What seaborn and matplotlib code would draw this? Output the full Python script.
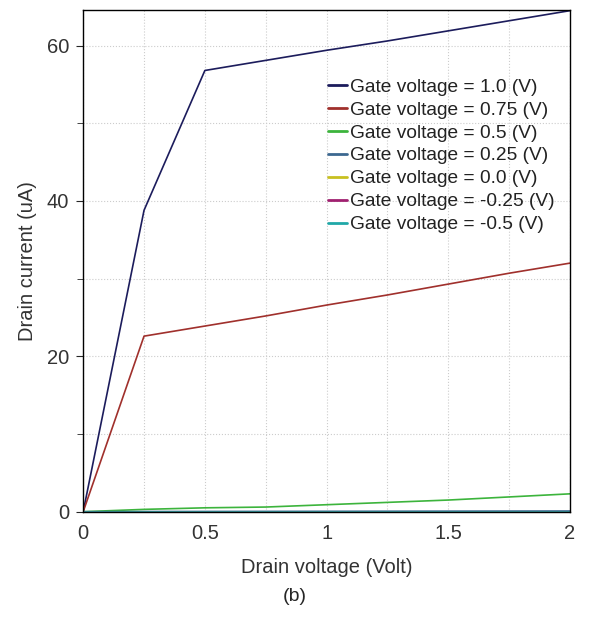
import matplotlib
matplotlib.use("Agg")
import matplotlib.pyplot as plt
import seaborn as sns
import pandas as pd
from matplotlib.ticker import MultipleLocator

sns.set_style("white")
plt.rcParams['font.family'] = ['Liberation Sans', 'DejaVu Sans']

drain_v = [0.0, 0.25, 0.5, 0.75, 1.0, 1.25, 1.5, 1.75, 2.0]
labels = ["Gate voltage = 1.0 (V)", "Gate voltage = 0.75 (V)", "Gate voltage = 0.5 (V)",
          "Gate voltage = 0.25 (V)", "Gate voltage = 0.0 (V)", "Gate voltage = -0.25 (V)",
          "Gate voltage = -0.5 (V)"]
i_10 = [0.0, 38.8, 56.8, 58.1, 59.4, 60.6, 61.9, 63.2, 64.5]
i_075 = [0.0, 22.6, 23.9, 25.2, 26.6, 27.9, 29.3, 30.7, 32.0]
i_05 = [0.0, 0.3, 0.5, 0.6, 0.9, 1.2, 1.5, 1.9, 2.3]
i_025 = [0.0, 0.02, 0.03, 0.04, 0.05, 0.06, 0.07, 0.08, 0.09]
i_00 = [0.0] * 9
i_m025 = [0.0] * 9
i_m05 = [0.0] * 9
colors = ["#1c1c5c", "#a0302c", "#3cb43c", "#3c6890", "#c8c020", "#a02070", "#20a8a8"]

series = [i_10, i_075, i_05, i_025, i_00, i_m025, i_m05]
rows = []
for lab, vals in zip(labels, series):
    for x, y in zip(drain_v, vals):
        rows.append({"Drain voltage": x, "Drain current": y, "Gate": lab})
df = pd.DataFrame(rows)

fig = plt.figure(figsize=(5.9, 6.18), dpi=100)
ax = fig.add_axes([0.141, 0.172, 0.825, 0.812])
sns.lineplot(data=df, x="Drain voltage", y="Drain current", hue="Gate",
             hue_order=labels, palette=colors, ax=ax, linewidth=1.2, legend=True)

ax.set_xlim(0, 2)
ax.set_ylim(0, 64.6)
ax.xaxis.set_minor_locator(MultipleLocator(0.25))
ax.yaxis.set_major_locator(MultipleLocator(20))
ax.yaxis.set_minor_locator(MultipleLocator(10))
ax.set_xticks([0, 0.5, 1, 1.5, 2])
ax.set_xticklabels(["0", "0.5", "1", "1.5", "2"])
ax.grid(True, which="both", linestyle=":", color="#cccccc", linewidth=0.8)
ax.tick_params(axis="x", which="both", direction="in", length=5, labelsize=14.5, colors="black",
               labelcolor="#333333", pad=9)
ax.tick_params(axis="y", which="both", direction="out", length=5, labelsize=14.5, left=True,
               labelcolor="#333333", pad=5)
ax.tick_params(axis="y", which="minor", length=4)
ax.tick_params(axis="x", which="minor", length=4)
for s in ax.spines.values():
    s.set_color("black")
    s.set_linewidth(1.0)
ax.set_xlabel("Drain voltage (Volt)", fontsize=14.5, labelpad=11, color="#333333")
ax.set_ylabel("Drain current (uA)", fontsize=14.5, labelpad=7, color="#333333")
leg = ax.legend(loc="upper left", bbox_to_anchor=(0.503, 0.864), frameon=False,
                fontsize=13.8, handlelength=1.0, handletextpad=0.15, labelspacing=0.29,
                borderaxespad=0, borderpad=0)
for t in leg.get_texts():
    t.set_color("#222222")
for line in leg.get_lines():
    line.set_linewidth(2.0)
fig.text(0.5, 0.034, "(b)", ha="center", va="center", fontsize=14)
fig.savefig("out.png", dpi=100)
